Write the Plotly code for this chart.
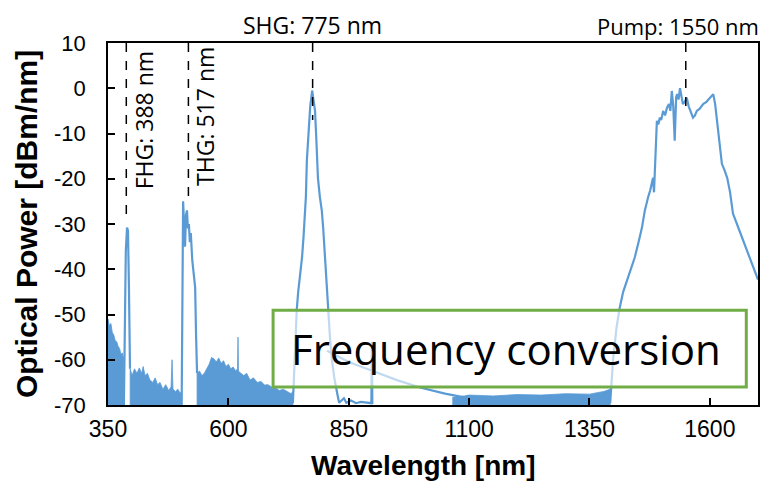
import plotly.graph_objects as go

BLUE = "#5B9BD5"
FLOOR = -70

# ---- noise-floor regions (top envelope, nm / dBm/nm) ----
r1_nm = [350, 353, 356, 359, 362, 365, 368, 371, 374, 377, 380, 383]
r1_db = [-51, -52.5, -52, -54, -54.5, -55.8, -56, -57, -57.5, -58.8, -58.5, -60]

r2_nm = [396, 400, 405, 410, 415, 420, 423, 427, 432, 437, 443, 448, 453, 458,
         464, 470, 476, 481, 483, 485, 490, 495, 500, 503]
r2_db = [-62, -63.5, -62, -63, -61.8, -63, -61.5, -63.5, -63, -64.5, -65, -64,
         -65.5, -65, -66.5, -65.5, -66.8, -66, -60, -66.5, -67, -66.5, -67.4, -67]

r3_nm = [535, 540, 545, 550, 555, 560, 565, 570, 575, 580, 585, 590, 595, 600,
         605, 610, 615, 619, 620, 621, 626, 632, 638, 645, 652, 660, 668, 675,
         682, 690, 698, 706, 714, 722, 730, 734]
r3_db = [-63, -62.5, -63.5, -63, -62, -61, -59.5, -59.8, -60.5, -59.6, -60.8,
         -60.2, -61.5, -61, -62, -61.6, -62.5, -62, -55, -62.5, -63, -63.5, -63,
         -64.5, -64, -65, -64.8, -65.6, -65.5, -66, -66.2, -66.8, -66.5, -67,
         -67.5, -67]

r4_nm = [1066, 1090, 1100, 1150, 1200, 1250, 1300, 1350, 1380, 1393]
r4_db = [-68.3, -68, -67.8, -68, -67.7, -67.8, -67.5, -67.6, -67, -66.5]

# ---- spectral peaks (line segments) ----
fhg_nm = [383, 385, 387, 389.5, 391.5, 393.5, 395.7]
fhg_db = [-70, -44, -36, -30.8, -31.5, -44, -62]

thg_nm = [503, 505, 506, 508, 510, 512, 514, 516, 518, 520, 522, 525, 528, 531, 533, 535]
thg_db = [-70, -50, -25, -30, -35, -28, -27, -31, -30, -34, -32, -38, -42, -44, -55, -63]

shg_nm = [734, 738, 742, 745, 749, 753, 756, 759, 761, 763, 765, 767, 770, 774,
          777, 780, 783, 786, 790, 794, 797, 801, 804, 807, 811, 815, 820, 826,
          830, 840, 845, 855, 865, 875, 890, 897, 898, 899]
shg_db = [-69.6, -58, -49, -45, -41.8, -37.4, -33, -28.6, -24, -16, -13, -8.7,
          -4, -0.5, -2.5, -5, -12, -19.8, -24, -27, -31, -38, -44, -49, -55,
          -60, -64, -67.4, -69.5, -68.5, -69.5, -69, -69.6, -69.3, -69.5,
          -69.6, -56, -69.8]

tail_nm = [805, 850, 900, 950, 1000, 1050, 1090]
tail_db = [-58, -60.5, -62.5, -64.5, -66.2, -67.5, -68.3]

pump_nm = [1393, 1399, 1406, 1413, 1420, 1428, 1436, 1444, 1452, 1459, 1465,
           1469, 1472, 1476, 1480, 1482, 1484, 1487, 1490, 1493, 1496, 1499,
           1503, 1507, 1511, 1515, 1518, 1521, 1524, 1527, 1530, 1532, 1535,
           1538, 1541, 1544, 1548, 1552, 1556, 1559, 1562, 1565, 1569, 1573,
           1579, 1586, 1593, 1600, 1604, 1607, 1611, 1617, 1621, 1625, 1630,
           1636, 1642, 1648, 1658, 1669, 1683, 1698, 1700]
pump_db = [-69.6, -60, -53, -48.4, -45, -42.5, -40, -37.4, -34, -30.8, -27,
           -24.8, -24, -22.6, -21, -19.8, -23, -15, -7.2, -8, -6.5, -7, -5, -6,
           -4.3, -3.5, -5, -0.6, -4, -11.6, -2, -1.3, -2.5, 0, -1.5, -3.5, -3,
           -2.1, -4, -5, -5.5, -6.5, -6, -5, -4.5, -3.5, -3, -2.1, -1.5, -1.3,
           -3.5, -8.7, -12, -16.7, -18, -19.8, -23, -27.7, -30.5, -33.6, -37.5,
           -41.8, -42.3]

# ---- harmonic markers ----
mark_nm = [388, 517, 775, 1550]
mark_top_db = [-28, -25, -7, -5]
mark_labels = ["FHG: 388 nm", "THG: 517 nm", "SHG: 775 nm", "Pump: 1550 nm"]

x_ticks = [350, 600, 850, 1100, 1350, 1600]
y_ticks = [10, 0, -10, -20, -30, -40, -50, -60, -70]

fig = go.Figure()

for nm, db in [(r1_nm, r1_db), (r2_nm, r2_db), (r3_nm, r3_db), (r4_nm, r4_db)]:
    fig.add_trace(go.Scatter(
        x=[nm[0]] + nm + [nm[-1]], y=[FLOOR] + db + [FLOOR],
        mode="lines", fill="toself", fillcolor=BLUE,
        line=dict(color=BLUE, width=0.8), hoverinfo="skip", showlegend=False))

for nm, db in [(fhg_nm, fhg_db), (thg_nm, thg_db), (shg_nm, shg_db),
               (tail_nm, tail_db), (pump_nm, pump_db)]:
    fig.add_trace(go.Scatter(x=nm, y=db, mode="lines",
                             line=dict(color=BLUE, width=2.2),
                             showlegend=False, cliponaxis=True))

# dashed marker lines
for nm, top in zip(mark_nm, mark_top_db):
    fig.add_shape(type="line", xref="x", yref="y", x0=nm, x1=nm, y0=10, y1=top,
                  line=dict(color="black", width=1.5, dash="dash"))

ann_font = dict(family="Open Sans", size=23, color="black")
# rotated labels
fig.add_annotation(x=mark_nm[0], xref="x", y=1, yref="paper", yanchor="top",
                   xanchor="center", xshift=18, yshift=-6, text=mark_labels[0],
                   textangle=-90, showarrow=False, font=ann_font)
fig.add_annotation(x=mark_nm[1], xref="x", y=1, yref="paper", yanchor="top",
                   xanchor="center", xshift=16, yshift=-2, text=mark_labels[1],
                   textangle=-90, showarrow=False, font=ann_font)
# top labels
fig.add_annotation(x=mark_nm[2], xref="x", y=1, yref="paper", yanchor="bottom",
                   xanchor="center", yshift=0, text=mark_labels[2],
                   showarrow=False, font=ann_font)
fig.add_annotation(x=mark_nm[3], xref="x", y=1, yref="paper", yanchor="bottom",
                   xanchor="center", xshift=-8, yshift=0, text=mark_labels[3],
                   showarrow=False,
                   font=dict(family="Open Sans", size=22, color="black"))

# Frequency conversion box
fig.add_shape(type="rect", xref="paper", yref="paper",
              x0=0.254, x1=0.982, y0=0.05, y1=0.262,
              line=dict(color="#70AD47", width=3),
              fillcolor="rgba(255,255,255,0.62)", layer="above")
fig.add_annotation(x=0.612, y=0.155, xref="paper", yref="paper",
                   xanchor="center", yanchor="middle",
                   text="Frequency conversion", showarrow=False,
                   font=dict(family="Open Sans", size=42, color="black"))

# axis titles
fig.add_annotation(x=-0.126, y=0.5, xref="paper", yref="paper",
                   xanchor="center", yanchor="middle",
                   text="<b>Optical Power [dBm/nm]</b>", textangle=-90,
                   showarrow=False,
                   font=dict(family="Liberation Sans", size=30, color="black"))
fig.add_annotation(x=0.485, y=-0.168, xref="paper", yref="paper",
                   xanchor="center", yanchor="middle",
                   text="<b>Wavelength [nm]</b>", showarrow=False,
                   font=dict(family="Liberation Sans", size=28, color="black"))

axis_common = dict(showline=True, linecolor="black", linewidth=1.5, mirror=True,
                   ticks="inside", ticklen=7, tickcolor="black", tickwidth=1.5,
                   showgrid=False, zeroline=False)

fig.update_xaxes(range=[350, 1700], tickvals=x_ticks,
                 ticktext=[str(v) for v in x_ticks], ticklabelstandoff=3,
                 tickfont=dict(family="Liberation Sans", size=23, color="black"),
                 **axis_common)
fig.update_yaxes(range=[-70, 10], tickvals=y_ticks,
                 ticktext=[str(v) for v in y_ticks], ticklabelstandoff=16,
                 tickfont=dict(family="Liberation Sans", size=22, color="black"),
                 **axis_common)

# page body adds an 8px offset, so the figure is 8px smaller than the window
fig.update_layout(width=763, height=476,
                  margin=dict(l=100, r=13, t=35, b=79),
                  plot_bgcolor="white", paper_bgcolor="white",
                  showlegend=False)

fig.write_html("out.html")
